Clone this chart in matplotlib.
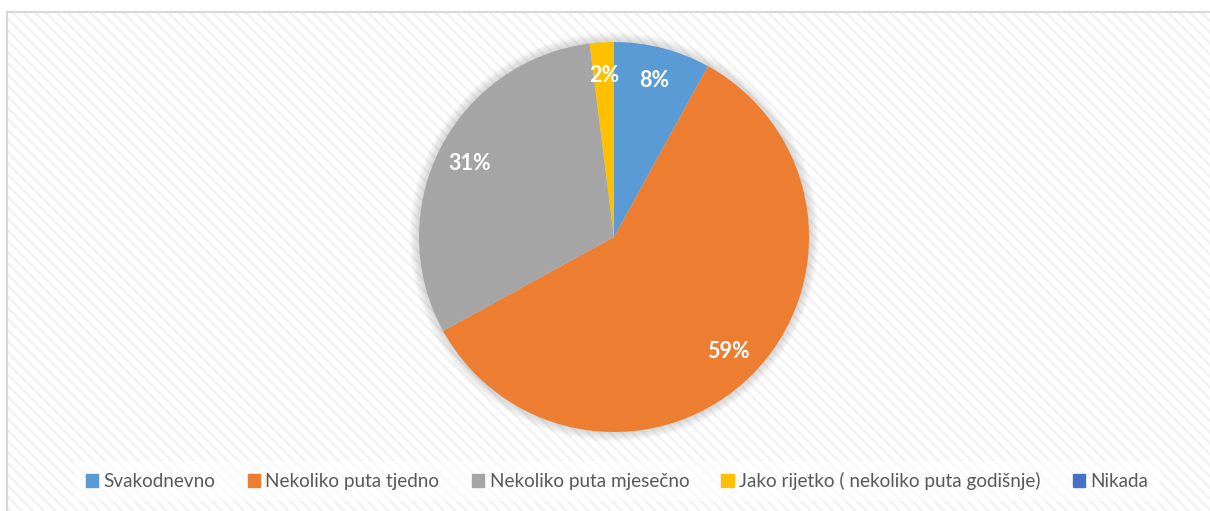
import matplotlib.pyplot as plt
from matplotlib.patches import Rectangle, Circle
from matplotlib.lines import Line2D

categorias = ["Svakodnevno", "Nekoliko puta tjedno", "Nekoliko puta mjesečno",
              "Jako rijetko ( nekoliko puta godišnje)", "Nikada"]
valores = [8, 59, 31, 2, 0]
colores = ["#5b9bd5", "#ed7d31", "#a5a5a5", "#ffc000", "#4472c4"]

plt.rcParams["font.family"] = ["Lato", "DejaVu Sans"]
plt.rcParams["hatch.linewidth"] = 1.8
plt.rcParams["hatch.color"] = "#f2f2f2"

fig = plt.figure(figsize=(12.1, 5.11), dpi=100)
fig.patch.set_facecolor("white")

# fondo rayado tipo excel
x0 = 7 / 1210
y1 = (511 - 12) / 511
fondo = Rectangle((x0, 0), 1 - x0, y1, transform=fig.transFigure, facecolor="white",
                  hatch="\\\\\\", edgecolor="#f2f2f2", linewidth=0, zorder=-5)
fig.patches.append(fondo)
fig.add_artist(Line2D([x0, 1], [y1, y1], transform=fig.transFigure, color="#d9d9d9", lw=1.5, zorder=-4))
fig.add_artist(Line2D([x0, x0], [0, y1], transform=fig.transFigure, color="#d9d9d9", lw=1.5, zorder=-4))

ax = fig.add_axes([0.3463 - 0.05 * 0.3223, 0.1546 - 0.05 * 0.7632, 0.3223 * 1.1, 0.7632 * 1.1])
ax.axis("off")
ax.patch.set_alpha(0)

# sombra suave
for i in range(8):
    ax.add_patch(Circle((0, 0), 1.0 + 0.006 * (i + 1), color="#808080", alpha=0.04, lw=0, zorder=0))

wedges, texts, autotexts = ax.pie(
    valores,
    colors=colores,
    startangle=90,
    counterclock=False,
    radius=1,
    autopct=lambda p: f"{p:.0f}%" if p > 0 else "",
    pctdistance=0.83,
    wedgeprops={"linewidth": 0},
    textprops={"color": "white", "fontsize": 15.5, "fontweight": "bold"})
for w in wedges:
    w.set_zorder(2)
for t in autotexts:
    t.set_zorder(3)
ax.set_xlim(-1.1, 1.1)
ax.set_ylim(-1.1, 1.1)

handles = [Rectangle((0, 0), 1, 1, color=c) for c in colores]
leg = fig.legend(handles, categorias, loc="center", bbox_to_anchor=(0.51, 0.0587), ncol=5,
                 frameon=True, fontsize=13.6, handlelength=0.65, handleheight=0.65,
                 handletextpad=0.3, columnspacing=1.7, borderpad=0.6)
leg.get_frame().set_facecolor("white")
leg.get_frame().set_edgecolor("none")
leg.get_frame().set_alpha(0.6)
for t in leg.get_texts():
    t.set_color("#595959")

plt.savefig("out.png", dpi=100)
